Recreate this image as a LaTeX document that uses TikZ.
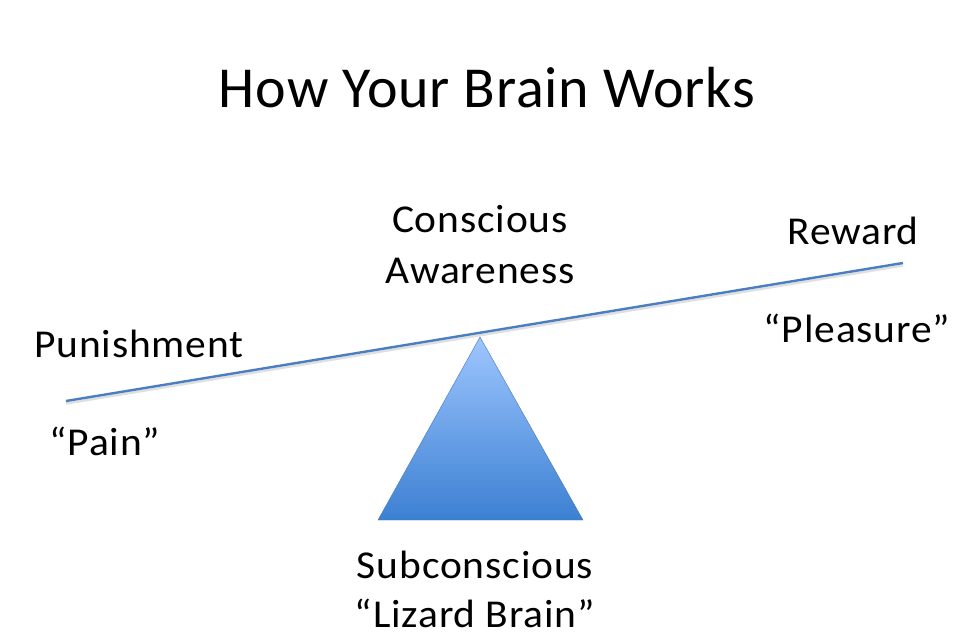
\documentclass[tikz,border=0pt]{standalone}
\usepackage{fontspec}
\setmainfont{Carlito}
\begin{document}
\begin{tikzpicture}[x=1pt,y=-1pt,
  lbl/.style={anchor=base,inner sep=0pt,font=\fontsize{39.5}{46}\selectfont\addfontfeature{FakeStretch=1.05,LetterSpace=2.2}},
  ttl/.style={anchor=base,inner sep=0pt,font=\fontsize{58}{70}\selectfont\addfontfeature{LetterSpace=1.4}},
  beam/.style={draw={rgb,255:red,74;green,126;blue,192},line width=2.4pt}]
\useasboundingbox[fill=white] (0,0) rectangle (974,639);
\node[ttl] (title) at (487,108) {How Your Brain Works};
\coordinate (L) at (66,401);
\coordinate (R) at (903,263);
\draw[gray!25,line width=2.4pt] ([yshift=-2.5]L) -- ([yshift=-2.5]R);
\draw[beam] (L) -- (R);
\definecolor{tritop}{RGB}{158,198,255}
\definecolor{tribot}{RGB}{60,128,210}
\shade[top color=tritop,bottom color=tribot,draw={rgb,255:red,70;green,120;blue,180},line width=0.4pt]
  (480,337) coordinate (apex) -- (583,520) coordinate (br) -- (378,520) coordinate (bl) -- cycle;
\node[lbl] (c1) at (480,233) {Conscious};
\node[lbl] (c2) at (480,283) {Awareness};
\node[lbl] (rw) at (853,244) {Reward};
\node[lbl] (pl) at (857,342) {“Pleasure”};
\node[lbl] (pu) at (139,357) {Punishment};
\node[lbl] (pa) at (105,455) {“Pain”};
\node[lbl] (s1) at (475,578) {Subconscious};
\node[lbl] (s2) at (475,627) {“Lizard Brain”};
\end{tikzpicture}
\end{document}
